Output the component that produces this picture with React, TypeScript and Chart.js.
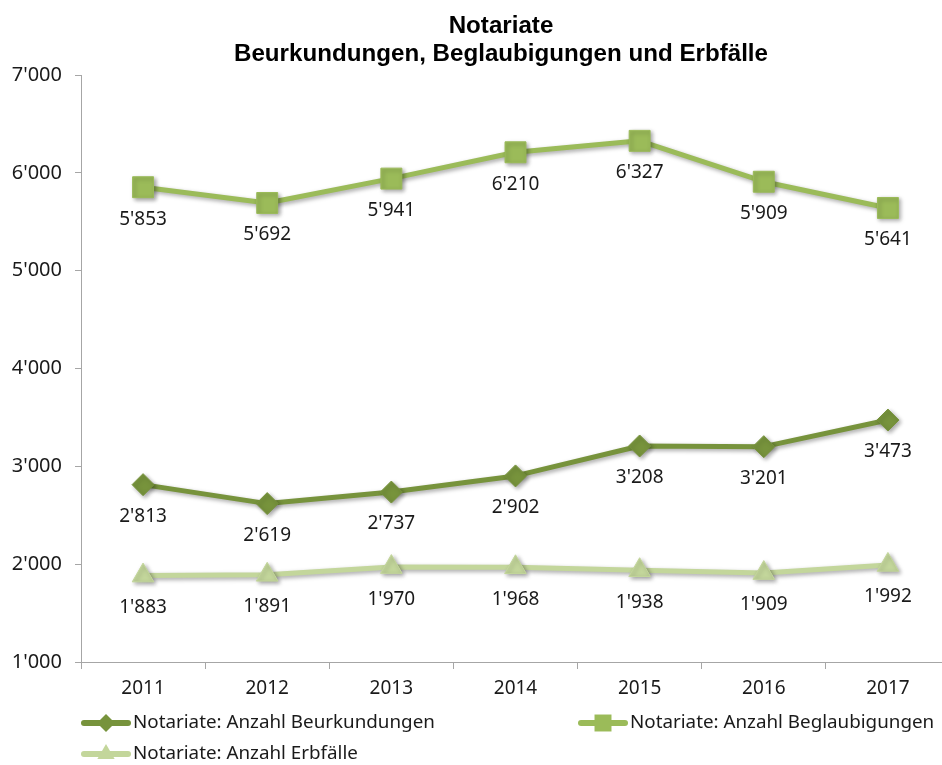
import React, { useEffect, useRef } from "react";
import { Chart, registerables } from "chart.js";

Chart.register(...registerables);

const years = ["2011", "2012", "2013", "2014", "2015", "2016", "2017"];
const beurkundungen = [2813, 2619, 2737, 2902, 3208, 3201, 3473];
const beglaubigungen = [5853, 5692, 5941, 6210, 6327, 5909, 5641];
const erbfaelle = [1883, 1891, 1970, 1968, 1938, 1909, 1992];
const seriesNames = [
  "Notariate: Anzahl Beurkundungen",
  "Notariate: Anzahl Beglaubigungen",
  "Notariate: Anzahl Erbfälle",
];
const titleLines = ["Notariate", "Beurkundungen, Beglaubigungen und Erbfälle"];
const yMin = 1000;
const yMax = 7000;
const yStep = 1000;

const colors = ["#77933C", "#9BBB59", "#C3D69B"];
const pointStyles = ["rectRot", "rect", "triangle"];
const pointRadii = [11, 14.8, 12.5];
const legendRadii = [9, 12, 10];
const FONT = "'Noto Sans', 'Liberation Sans', sans-serif";
const TITLE_FONT = "'Liberation Sans', Arial, sans-serif";

const fmt = (v: number) => String(Math.round(v)).replace(/\B(?=(\d{3})+(?!\d))/g, "'");

function fitSize(ctx: CanvasRenderingContext2D, text: string, weight: string, family: string, target: number) {
  ctx.font = `${weight} 20px ${family}`;
  const w = ctx.measureText(text).width;
  return (20 * target) / w;
}

function drawMarker(ctx: CanvasRenderingContext2D, style: string, x: number, y: number, r: number) {
  ctx.beginPath();
  if (style === "rectRot") {
    ctx.moveTo(x - r, y);
    ctx.lineTo(x, y - r);
    ctx.lineTo(x + r, y);
    ctx.lineTo(x, y + r);
  } else if (style === "rect") {
    const s = r * Math.SQRT1_2;
    ctx.rect(x - s, y - s, 2 * s, 2 * s);
  } else {
    ctx.moveTo(x, y - r);
    ctx.lineTo(x + r * Math.sin((2 * Math.PI) / 3), y - r * Math.cos((2 * Math.PI) / 3));
    ctx.lineTo(x + r * Math.sin((4 * Math.PI) / 3), y - r * Math.cos((4 * Math.PI) / 3));
  }
  ctx.closePath();
  ctx.fill();
}

const shadowPlugin = {
  id: "shadowPlugin",
  beforeDatasetsDraw(chart: any) {
    const ctx = chart.ctx;
    ctx.save();
    ctx.shadowColor = "rgba(0,0,0,0.35)";
    ctx.shadowBlur = 4;
    ctx.shadowOffsetX = 2;
    ctx.shadowOffsetY = 2;
  },
  afterDatasetsDraw(chart: any) {
    chart.ctx.restore();
  },
};

const decorPlugin = {
  id: "decorPlugin",
  afterDraw(chart: any) {
    const ctx: CanvasRenderingContext2D = chart.ctx;
    // data labels
    ctx.save();
    ctx.font = `19px ${FONT}`;
    ctx.fillStyle = "#1a1a1a";
    ctx.textAlign = "center";
    ctx.textBaseline = "middle";
    chart.data.datasets.forEach((ds: any, i: number) => {
      const meta = chart.getDatasetMeta(i);
      meta.data.forEach((pt: any, j: number) => {
        ctx.fillText(fmt(ds.data[j]), pt.x, pt.y + 32);
      });
    });
    ctx.restore();

    // title (condensed bold)
    ctx.save();
    ctx.font = `bold 24px ${TITLE_FONT}`;
    const w2 = ctx.measureText(titleLines[1]).width;
    const sx = 534 / w2;
    ctx.fillStyle = "#000";
    ctx.textAlign = "center";
    ctx.textBaseline = "alphabetic";
    ctx.translate(501, 0);
    ctx.scale(sx, 1);
    ctx.fillText(titleLines[0], 0, 33);
    ctx.fillText(titleLines[1], 0, 61);
    ctx.restore();

    // legend
    ctx.save();
    const ls = fitSize(ctx, seriesNames[0], "", FONT, 302);
    const items = [
      { x: 81, y: 723 },
      { x: 578, y: 723 },
      { x: 81, y: 754 },
    ];
    items.forEach((it, i) => {
      ctx.strokeStyle = colors[i];
      ctx.fillStyle = colors[i];
      ctx.lineWidth = 6;
      ctx.lineCap = "round";
      ctx.beginPath();
      ctx.moveTo(it.x + 3, it.y);
      ctx.lineTo(it.x + 47, it.y);
      ctx.stroke();
      drawMarker(ctx, pointStyles[i], it.x + 25, it.y, legendRadii[i]);
      ctx.font = `${ls}px ${FONT}`;
      ctx.fillStyle = "#1a1a1a";
      ctx.textAlign = "left";
      ctx.textBaseline = "middle";
      ctx.fillText(seriesNames[i], it.x + 52, it.y);
    });
    ctx.restore();
  },
};

export default function App() {
  const ref = useRef<HTMLCanvasElement | null>(null);

  useEffect(() => {
    if (!ref.current) return;
    const series = [beurkundungen, beglaubigungen, erbfaelle];
    const chart = new Chart(ref.current, {
      type: "line",
      data: {
        labels: years,
        datasets: series.map((d, i) => ({
          label: seriesNames[i],
          data: d,
          borderColor: colors[i],
          backgroundColor: colors[i],
          borderWidth: 5,
          borderJoinStyle: "round" as const,
          borderCapStyle: "round" as const,
          tension: 0,
          pointStyle: pointStyles[i] as any,
          pointRadius: pointRadii[i],
          pointBackgroundColor: colors[i],
          pointBorderColor: colors[i],
          pointBorderWidth: 1,
          fill: false,
        })),
      },
      options: {
        responsive: false,
        animation: false,
        layout: { padding: { left: 0, right: 50, top: 75, bottom: 0 } },
        plugins: {
          legend: { display: false },
          title: { display: false },
          tooltip: { enabled: false },
        },
        scales: {
          x: {
            type: "category",
            offset: true,
            afterFit: (s: any) => {
              s.height = 103;
            },
            grid: {
              offset: true,
              drawOnChartArea: false,
              tickLength: 7,
              color: "#A6A6A6",
            },
            border: { display: true, color: "#A6A6A6", width: 1 },
            ticks: {
              font: { family: FONT, size: 19 },
              color: "#1a1a1a",
              padding: 8,
              maxRotation: 0,
            },
          },
          y: {
            min: yMin,
            max: yMax,
            afterFit: (s: any) => {
              s.width = 81;
            },
            grid: {
              drawOnChartArea: false,
              tickLength: 6,
              color: "#A6A6A6",
            },
            border: { display: true, color: "#A6A6A6", width: 1 },
            ticks: {
              stepSize: yStep,
              font: { family: FONT, size: 20 },
              color: "#1a1a1a",
              padding: 13,
              callback: (v: any) => fmt(Number(v)),
            },
          },
        },
      },
      plugins: [shadowPlugin, decorPlugin],
    });
    return () => chart.destroy();
  }, []);

  return (
    <div
      style={{
        position: "absolute",
        left: 0,
        top: 0,
        width: 942,
        height: 765,
        overflow: "hidden",
        background: "#fff",
      }}
    >
      <canvas ref={ref} width={1000} height={765} style={{ display: "block" }} />
    </div>
  );
}
